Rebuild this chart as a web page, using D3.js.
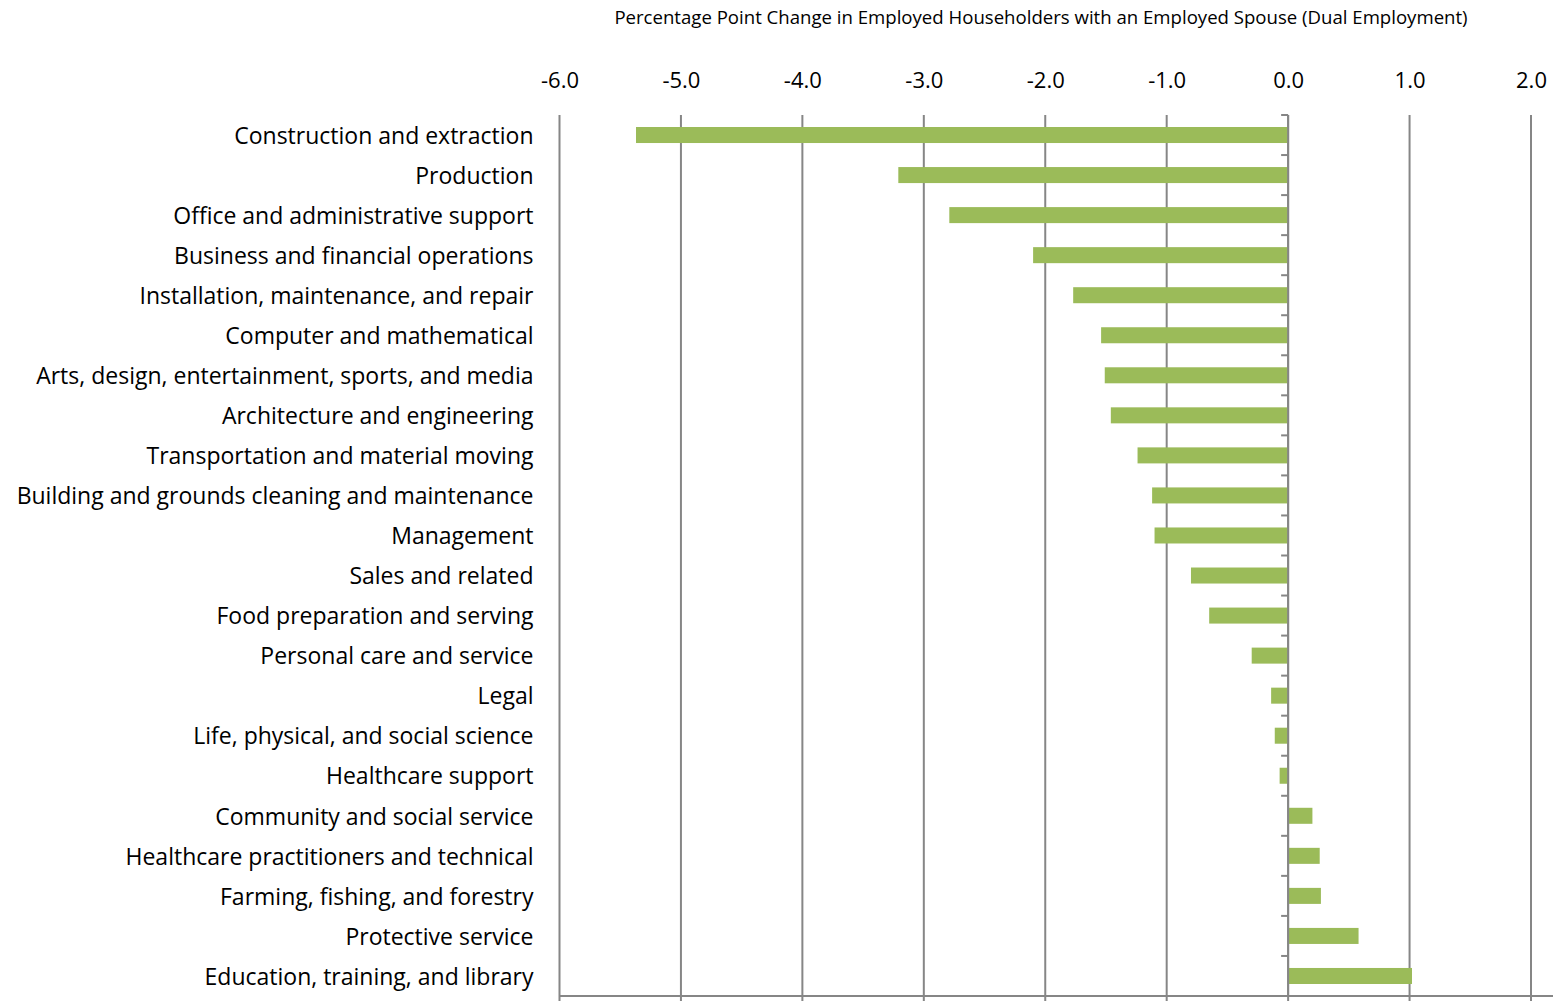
<!DOCTYPE html>
<html>
<head>
<meta charset="utf-8">
<script src="https://cdn.jsdelivr.net/npm/d3@7"></script>
<style>
  html, body { margin: 0; padding: 0; background: #fff; }
  svg { display: block; }
  text { font-family: "Open Sans", "Liberation Sans", sans-serif; fill: #000; }
</style>
</head>
<body>
<svg id="chart" width="1553" height="1001"></svg>
<script>
// Occupations, ordered as listed on the chart (top to bottom)
const occupations = [
  "Construction and extraction",
  "Production",
  "Office and administrative support",
  "Business and financial operations",
  "Installation, maintenance, and repair",
  "Computer and mathematical",
  "Arts, design, entertainment, sports, and media",
  "Architecture and engineering",
  "Transportation and material moving",
  "Building and grounds cleaning and maintenance",
  "Management",
  "Sales and related",
  "Food preparation and serving",
  "Personal care and service",
  "Legal",
  "Life, physical, and social science",
  "Healthcare support",
  "Community and social service",
  "Healthcare practitioners and technical",
  "Farming, fishing, and forestry",
  "Protective service",
  "Education, training, and library"
];

// Percentage point change in dual employment, by occupation
const changes = [
  -5.37, -3.21, -2.79, -2.10, -1.77, -1.54, -1.51, -1.46, -1.24, -1.12, -1.10,
  -0.80, -0.65, -0.30, -0.14, -0.11, -0.07, 0.20, 0.26, 0.27, 0.58, 1.02
];

const xTicks = [-6, -5, -4, -3, -2, -1, 0, 1, 2];
const axisTitle = "Percentage Point Change in Employed Householders with an Employed Spouse (Dual Employment)";

const data = occupations.map((name, i) => ({ name, value: changes[i] }));

const svg = d3.select("#chart");
const margin = { top: 115, right: 22, bottom: 6, left: 559.5 };
const width = 1531 - margin.left;
const height = 996 - margin.top;

const x = d3.scaleLinear().domain([-6, 2]).range([0, width]);
const y = d3.scaleBand().domain(occupations).range([0, height]).paddingInner(0.6).paddingOuter(0.3);
const yRows = d3.scaleBand().domain(occupations).range([0, height]);

const g = svg.append("g").attr("transform", `translate(${margin.left},${margin.top})`);
const gray = "#868686";

// Vertical gridlines, extending slightly below the bottom axis
g.append("g")
  .selectAll("line")
  .data(xTicks)
  .join("line")
  .attr("x1", d => x(d)).attr("x2", d => x(d))
  .attr("y1", 0).attr("y2", height + 6)
  .attr("stroke", gray).attr("stroke-width", 2);

// Bottom axis line
g.append("line")
  .attr("x1", 0).attr("x2", 1553 - margin.left)
  .attr("y1", height).attr("y2", height)
  .attr("stroke", gray).attr("stroke-width", 2);

// Bars
g.append("g")
  .selectAll("rect")
  .data(data)
  .join("rect")
  .attr("x", d => x(Math.min(0, d.value)))
  .attr("width", d => Math.abs(x(d.value) - x(0)))
  .attr("y", d => y(d.name))
  .attr("height", y.bandwidth())
  .attr("fill", "#9bbb59");

// Zero axis with category tick marks at row boundaries
const boundaries = occupations.map(d => yRows(d)).concat([height]);
g.append("line")
  .attr("x1", x(0)).attr("x2", x(0))
  .attr("y1", 0).attr("y2", height)
  .attr("stroke", gray).attr("stroke-width", 2);
g.append("g")
  .selectAll("line")
  .data(boundaries)
  .join("line")
  .attr("x1", x(0) - 7).attr("x2", x(0))
  .attr("y1", d => d).attr("y2", d => d)
  .attr("stroke", gray).attr("stroke-width", 2);

// Top tick labels (plain hyphen for negatives)
const fmt = d => d.toFixed(1);
const xAxis = d3.axisTop(x).tickValues(xTicks).tickFormat(fmt).tickSize(0).tickPadding(0);
const ax = g.append("g").attr("transform", "translate(0,-27)").call(xAxis);
ax.select(".domain").remove();
ax.selectAll("text")
  .attr("font-family", "'Open Sans', sans-serif")
  .attr("font-size", 22)
  .attr("fill", "#000");

// Category labels
g.append("g")
  .selectAll("text")
  .data(occupations)
  .join("text")
  .attr("x", -26)
  .attr("y", d => yRows(d) + yRows.bandwidth() / 2)
  .attr("dy", "0.38em")
  .attr("text-anchor", "end")
  .attr("font-size", 23)
  .text(d => d);

// Axis title
svg.append("text")
  .attr("x", 1041)
  .attr("y", 24)
  .attr("text-anchor", "middle")
  .attr("font-size", 18.6)
  .text(axisTitle);
</script>
</body>
</html>
